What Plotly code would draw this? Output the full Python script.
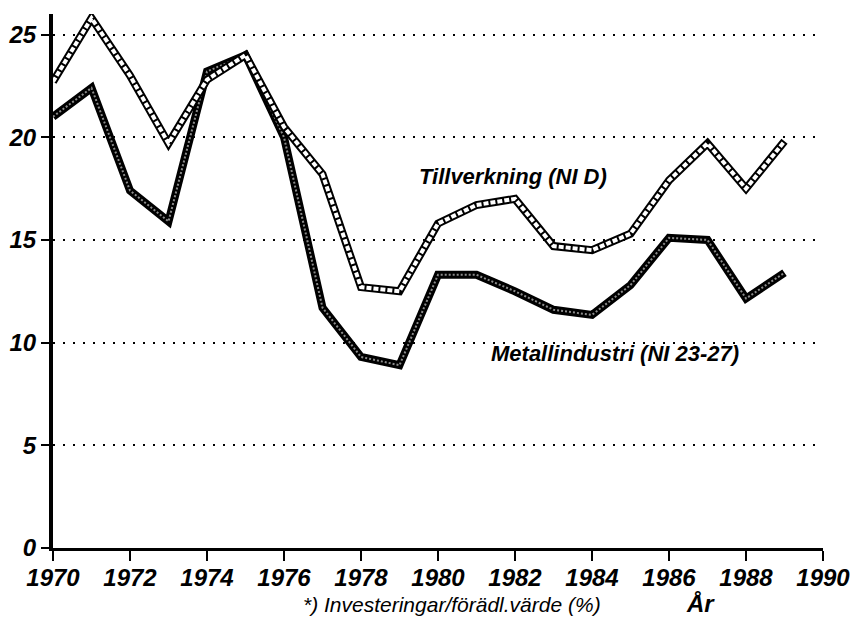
import plotly.graph_objects as go

# data (percent)
years = list(range(1970, 1990))
tillverkning = [22.7, 25.8, 23.0, 19.7, 22.8, 24.0, 20.5, 18.2, 12.7, 12.5,
                15.8, 16.7, 17.0, 14.7, 14.5, 15.3, 17.9, 19.7, 17.5, 19.8]
metallindustri = [21.0, 22.4, 17.4, 15.9, 23.2, 24.0, 20.0, 11.7, 9.3, 8.9,
                  13.3, 13.3, 12.5, 11.6, 11.35, 12.8, 15.1, 15.0, 12.15, 13.4]
x_ticks = list(range(1970, 1991, 2))
y_ticks = [0, 5, 10, 15, 20, 25]

FONT = "Liberation Sans, Arial, sans-serif"

fig = go.Figure()

# Metallindustri: heavy dark line with a stippled core
fig.add_trace(go.Scatter(x=years, y=metallindustri, mode="lines",
                         line=dict(color="black", width=8),
                         hoverinfo="skip", showlegend=False))
fig.add_trace(go.Scatter(x=years, y=metallindustri, mode="lines",
                         line=dict(color="#8c8c8c", width=2, dash="2px,2px"),
                         name="Metallindustri (NI 23-27)", showlegend=False))

# Tillverkning: black outline with a light hatched core
fig.add_trace(go.Scatter(x=years, y=tillverkning, mode="lines",
                         line=dict(color="black", width=8),
                         hoverinfo="skip", showlegend=False))
fig.add_trace(go.Scatter(x=years, y=tillverkning, mode="lines",
                         line=dict(color="white", width=4, dash="5px,2px"),
                         name="Tillverkning (NI D)", showlegend=False))

fig.add_annotation(x=1981.95, y=18.1, text="<b><i>Tillverkning (NI D)</i></b>",
                   showarrow=False, font=dict(family=FONT, size=22, color="black"))
fig.add_annotation(x=1984.6, y=9.45, text="<b><i>Metallindustri (NI 23-27)</i></b>",
                   showarrow=False, font=dict(family=FONT, size=22, color="black"))
fig.add_annotation(xref="paper", yref="paper", x=0.3227, y=-0.131,
                   text="<i>*) Investeringar/förädl.värde (%)</i>",
                   showarrow=False, font=dict(family=FONT, size=21, color="black"))
fig.add_annotation(xref="paper", yref="paper", x=0.862, y=-0.133,
                   text="<b><i>År</i></b>",
                   showarrow=False, font=dict(family=FONT, size=24, color="black"))

fig.update_layout(
    width=859, height=632,
    margin=dict(l=53, r=36, t=14, b=84),
    paper_bgcolor="white", plot_bgcolor="white",
    font=dict(family=FONT, color="black"),
)

fig.update_xaxes(
    range=[1970, 1990], tickvals=x_ticks, ticktext=[str(t) for t in x_ticks],
    showgrid=False, zeroline=False, automargin=False,
    showline=True, linecolor="black", linewidth=3,
    ticks="outside", ticklen=10, tickwidth=2, tickcolor="black",
    ticklabelstandoff=-4,
    tickfont=dict(family=FONT, size=24, weight="bold", style="italic"),
)
fig.update_yaxes(
    range=[0, 26], tickvals=y_ticks,
    showgrid=True, gridcolor="black", gridwidth=2, griddash="2px,8px",
    zeroline=False, automargin=False,
    showline=True, linecolor="black", linewidth=4,
    ticks="outside", ticklen=8, tickwidth=2, tickcolor="black",
    tickfont=dict(family=FONT, size=24, weight="bold", style="italic"),
)

# drop the browser's default body margin so the figure sits at the page corner
fig.write_html("out.html", config={"displayModeBar": False},
               post_script="document.body.style.margin='0';")
